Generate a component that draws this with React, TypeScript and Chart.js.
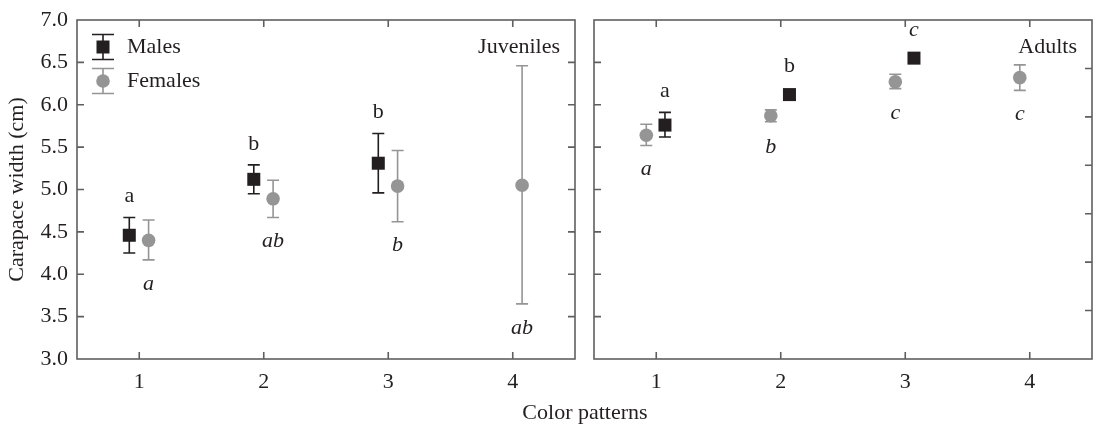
import React, { useEffect, useRef } from 'react';
import { Chart, registerables } from 'chart.js';

Chart.register(...registerables);

// ---------- data ----------
const categories = [1, 2, 3, 4];
const categoryLabels = ['1', '2', '3', '4'];
const yTickValues = [3.0, 3.5, 4.0, 4.5, 5.0, 5.5, 6.0, 6.5, 7.0];

// Juveniles
const juvMaleMean = [4.46, 5.12, 5.31, null];
const juvMaleLow = [4.25, 4.95, 4.96, null];
const juvMaleHigh = [4.67, 5.29, 5.66, null];
const juvMaleLetters = ['a', 'b', 'b', ''];

const juvFemaleMean = [4.40, 4.89, 5.04, 5.05];
const juvFemaleLow = [4.17, 4.67, 4.62, 3.65];
const juvFemaleHigh = [4.64, 5.11, 5.46, 6.46];
const juvFemaleLetters = ['a', 'ab', 'b', 'ab'];

// Adults
const adultMaleMean = [5.76, 6.12, 6.55, null];
const adultMaleLow = [5.62, 6.07, 6.51, null];
const adultMaleHigh = [5.91, 6.17, 6.59, null];
const adultMaleLetters = ['a', 'b', 'c', ''];
const adultMaleLetterItalic = [false, false, true, false];

const adultFemaleMean = [5.64, 5.87, 6.27, 6.32];
const adultFemaleLow = [5.52, 5.80, 6.19, 6.17];
const adultFemaleHigh = [5.77, 5.94, 6.36, 6.47];
const adultFemaleLetters = ['a', 'b', 'c', 'c'];

// secondary (right-hand) tick scale of the adult panel
const adultRightMin = 0;
const adultRightMax = 7;
const adultRightStep = 1;

// ---------- styles ----------
const FONT = "'Liberation Serif', 'Times New Roman', serif";
const TEXT = '#231f20';
const MALE = '#231f20';
const FEMALE = '#959595';
const FRAME = '#5f5f5f';
const FS = 22;

type Series = {
  label: string;
  mean: (number | null)[];
  low: (number | null)[];
  high: (number | null)[];
  letters: string[];
  italic: boolean[];
  above: boolean;
  offset: number;
  color: string;
  style: 'rect' | 'circle';
};

type Panel = {
  title: string;
  series: Series[];
  legend: boolean;
  rightScale: string;
};

const juvenilePanel: Panel = {
  title: 'Juveniles',
  legend: true,
  rightScale: 'y',
  series: [
    {
      label: 'Males', mean: juvMaleMean, low: juvMaleLow, high: juvMaleHigh,
      letters: juvMaleLetters, italic: [false, false, false, false], above: true,
      offset: -0.08, color: MALE, style: 'rect',
    },
    {
      label: 'Females', mean: juvFemaleMean, low: juvFemaleLow, high: juvFemaleHigh,
      letters: juvFemaleLetters, italic: [true, true, true, true], above: false,
      offset: 0.075, color: FEMALE, style: 'circle',
    },
  ],
};

const adultPanel: Panel = {
  title: 'Adults',
  legend: false,
  rightScale: 'y2',
  series: [
    {
      label: 'Females', mean: adultFemaleMean, low: adultFemaleLow, high: adultFemaleHigh,
      letters: adultFemaleLetters, italic: [true, true, true, true], above: false,
      offset: -0.08, color: FEMALE, style: 'circle',
    },
    {
      label: 'Males', mean: adultMaleMean, low: adultMaleLow, high: adultMaleHigh,
      letters: adultMaleLetters, italic: adultMaleLetterItalic, above: true,
      offset: 0.07, color: MALE, style: 'rect',
    },
  ],
};

function drawMarker(ctx: CanvasRenderingContext2D, style: string, x: number, y: number, color: string) {
  ctx.save();
  ctx.fillStyle = color;
  if (style === 'rect') {
    ctx.fillRect(x - 6.5, y - 6.5, 13, 13);
  } else {
    ctx.beginPath();
    ctx.arc(x, y, 6.8, 0, Math.PI * 2);
    ctx.fill();
  }
  ctx.restore();
}

function makePlugin(panel: Panel) {
  return {
    id: 'panelDecor',
    beforeDatasetsDraw(chart: any) {
      const { ctx, scales } = chart;
      const xs = scales.x;
      const ys = scales.y;
      for (const s of panel.series) {
        ctx.save();
        ctx.strokeStyle = s.color;
        ctx.lineWidth = 1.6;
        s.mean.forEach((m, i) => {
          if (m == null) return;
          const px = xs.getPixelForValue(categories[i] + s.offset);
          const top = ys.getPixelForValue(s.high[i] as number);
          const bot = ys.getPixelForValue(s.low[i] as number);
          ctx.beginPath();
          ctx.moveTo(px, top);
          ctx.lineTo(px, bot);
          ctx.moveTo(px - 6, top);
          ctx.lineTo(px + 6, top);
          ctx.moveTo(px - 6, bot);
          ctx.lineTo(px + 6, bot);
          ctx.stroke();
        });
        ctx.restore();
      }
    },
    afterDatasetsDraw(chart: any) {
      const { ctx, chartArea: a, scales } = chart;
      const xs = scales.x;
      const ys = scales.y;
      const yr = scales[panel.rightScale];
      const TL = 7;

      ctx.save();
      // frame
      ctx.strokeStyle = FRAME;
      ctx.lineWidth = 1.6;
      ctx.strokeRect(a.left, a.top, a.right - a.left, a.bottom - a.top);
      // inner ticks
      ctx.beginPath();
      ys.ticks.forEach((t: any) => {
        const py = ys.getPixelForValue(t.value);
        if (py <= a.top + 1 || py >= a.bottom - 1) return;
        ctx.moveTo(a.left, py);
        ctx.lineTo(a.left + TL, py);
      });
      yr.ticks.forEach((t: any) => {
        const py = yr.getPixelForValue(t.value);
        if (py <= a.top + 1 || py >= a.bottom - 1) return;
        ctx.moveTo(a.right, py);
        ctx.lineTo(a.right - TL, py);
      });
      xs.ticks.forEach((t: any) => {
        const px = xs.getPixelForValue(t.value);
        ctx.moveTo(px, a.top);
        ctx.lineTo(px, a.top + TL);
        ctx.moveTo(px, a.bottom);
        ctx.lineTo(px, a.bottom - TL);
      });
      ctx.stroke();

      // x tick labels (category numbers)
      ctx.fillStyle = TEXT;
      ctx.font = `${FS}px ${FONT}`;
      ctx.textAlign = 'center';
      ctx.textBaseline = 'middle';
      xs.ticks.forEach((t: any) => {
        const idx = categories.indexOf(t.value);
        const lbl = idx >= 0 ? categoryLabels[idx] : String(t.value);
        ctx.fillText(lbl, xs.getPixelForValue(t.value), a.bottom + 23);
      });

      // significance letters
      for (const s of panel.series) {
        s.mean.forEach((m, i) => {
          const txt = s.letters[i];
          if (m == null || !txt) return;
          const px = xs.getPixelForValue(categories[i] + s.offset);
          ctx.font = `${s.italic[i] ? 'italic ' : ''}${FS}px ${FONT}`;
          if (s.above) {
            const top = Math.min(ys.getPixelForValue(s.high[i] as number), ys.getPixelForValue(m) - 7);
            ctx.fillText(txt, px, top - 21);
          } else {
            const bot = Math.max(ys.getPixelForValue(s.low[i] as number), ys.getPixelForValue(m) + 7);
            ctx.fillText(txt, px, bot + 24);
          }
        });
      }

      // panel title
      ctx.font = `${FS}px ${FONT}`;
      ctx.textAlign = 'right';
      ctx.fillText(panel.title, a.right - 15, a.top + 27);

      // legend
      if (panel.legend) {
        const lx = a.left + 26;
        const items = [panel.series[0], panel.series[1]];
        items.forEach((s, k) => {
          const ly = a.top + 27 + k * 34;
          ctx.strokeStyle = s.color;
          ctx.lineWidth = 1.6;
          ctx.beginPath();
          ctx.moveTo(lx, ly - 12.5);
          ctx.lineTo(lx, ly + 12.5);
          ctx.moveTo(lx - 11, ly - 12.5);
          ctx.lineTo(lx + 11, ly - 12.5);
          ctx.moveTo(lx - 11, ly + 12.5);
          ctx.lineTo(lx + 11, ly + 12.5);
          ctx.stroke();
          drawMarker(ctx, s.style, lx, ly, s.color);
          ctx.fillStyle = TEXT;
          ctx.textAlign = 'left';
          ctx.font = `${FS}px ${FONT}`;
          ctx.fillText(s.label, lx + 24, ly);
        });
      }
      ctx.restore();
    },
  };
}

function buildConfig(panel: Panel, isLeft: boolean): any {
  const datasets = panel.series.map((s) => ({
    label: s.label,
    data: s.mean
      .map((m, i) => (m == null ? null : { x: categories[i] + s.offset, y: m }))
      .filter((p) => p !== null),
    pointStyle: s.style,
    pointRadius: s.style === 'rect' ? 9.2 : 6.8,
    pointHoverRadius: s.style === 'rect' ? 9.2 : 6.8,
    pointBorderWidth: 0,
    borderWidth: 0,
    backgroundColor: s.color,
    borderColor: s.color,
    showLine: false,
  }));

  const scales: any = {
    x: {
      type: 'linear',
      min: 0.5,
      max: 4.5,
      afterBuildTicks: (s: any) => {
        s.ticks = categories.map((v) => ({ value: v }));
      },
      ticks: { display: false },
      grid: { display: false, drawTicks: false },
      border: { display: false },
      afterFit: (s: any) => {
        s.height = 68;
      },
    },
    y: {
      type: 'linear',
      min: 3,
      max: 7,
      afterBuildTicks: (s: any) => {
        s.ticks = yTickValues.map((v) => ({ value: v }));
      },
      ticks: {
        display: isLeft,
        color: TEXT,
        font: { family: FONT, size: FS },
        padding: 9,
        callback: (v: any) => Number(v).toFixed(1),
      },
      grid: { display: false, drawTicks: false },
      border: { display: false },
      title: isLeft
        ? {
            display: true,
            text: 'Carapace width (cm)',
            color: TEXT,
            font: { family: FONT, size: FS },
            padding: { top: 4, bottom: 4 },
          }
        : { display: false },
      afterFit: (s: any) => {
        s.width = isLeft ? 77 : 9;
        s.paddingTop = 0;
        s.paddingBottom = 0;
      },
    },
  };
  if (!isLeft) {
    scales.y2 = {
      type: 'linear',
      position: 'right',
      display: false,
      min: adultRightMin,
      max: adultRightMax,
      ticks: { stepSize: adultRightStep },
    };
  }

  return {
    type: 'scatter',
    data: { datasets },
    options: {
      responsive: false,
      animation: false,
      devicePixelRatio: 1,
      layout: { autoPadding: false, padding: { left: 0, right: isLeft ? 10 : 2, top: 20, bottom: 0 } },
      plugins: { legend: { display: false }, tooltip: { enabled: false } },
      scales,
    },
    plugins: [makePlugin(panel)],
  };
}

export default function App() {
  const leftRef = useRef<HTMLCanvasElement>(null);
  const rightRef = useRef<HTMLCanvasElement>(null);

  useEffect(() => {
    const c1 = new Chart(leftRef.current as HTMLCanvasElement, buildConfig(juvenilePanel, true));
    const c2 = new Chart(rightRef.current as HTMLCanvasElement, buildConfig(adultPanel, false));
    return () => {
      c1.destroy();
      c2.destroy();
    };
  }, []);

  return (
    <div style={{ position: 'absolute', left: 0, top: 0, width: 1094, height: 427, background: '#fff' }}>
      <canvas ref={leftRef} width={585} height={427} style={{ position: 'absolute', left: 0, top: 0 }} />
      <canvas ref={rightRef} width={509} height={427} style={{ position: 'absolute', left: 585, top: 0 }} />
      <div
        style={{
          position: 'absolute',
          left: 585,
          top: 398,
          transform: 'translateX(-50%)',
          fontFamily: FONT,
          fontSize: FS,
          lineHeight: '28px',
          color: TEXT,
          whiteSpace: 'nowrap',
        }}
      >
        Color patterns
      </div>
    </div>
  );
}
